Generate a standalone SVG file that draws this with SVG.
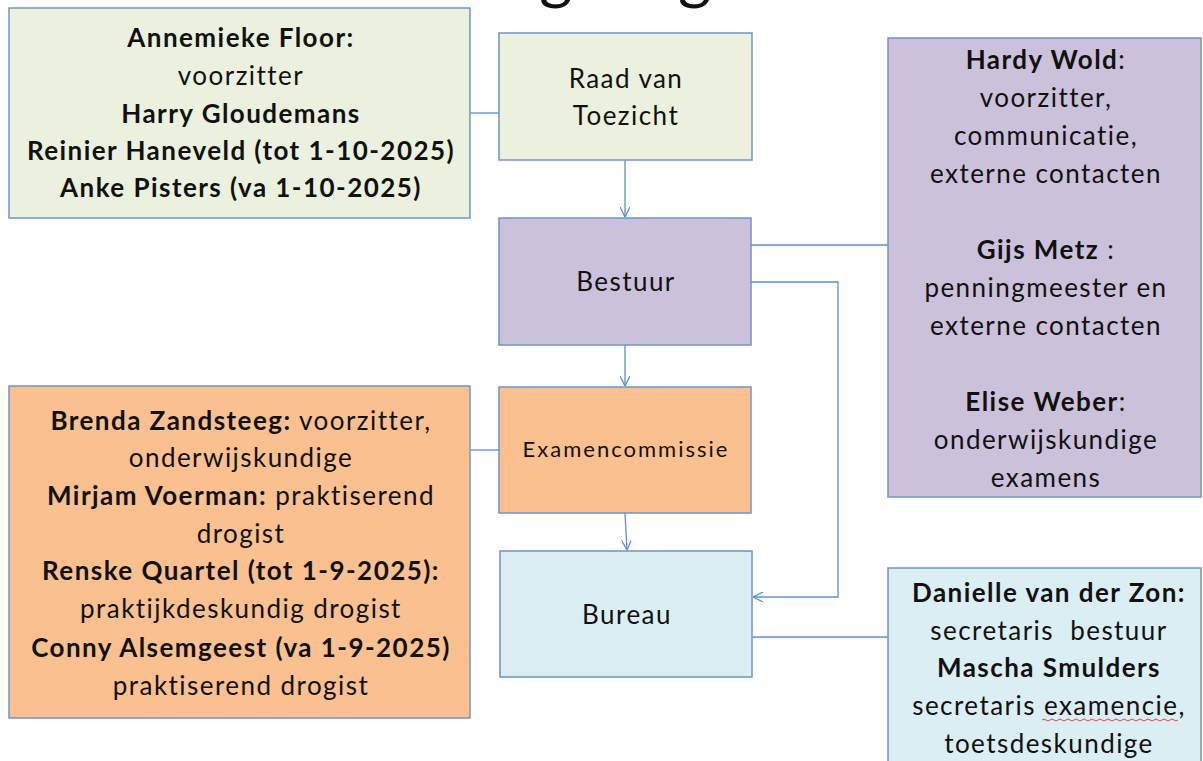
<svg xmlns="http://www.w3.org/2000/svg" width="1203" height="761" viewBox="0 0 1203 761">
<style>
  text { font-family: Lato, "Open Sans", "Liberation Sans", sans-serif; font-size: 26px; letter-spacing: 1.45px; fill: #111; text-anchor: middle; }
  .b { font-weight: bold; }
  .box { stroke: #7393C0; stroke-width: 1.5; }
  .green { fill: #EBF1DE; }
  .purple { fill: #CCC1DA; }
  .orange { fill: #FAC090; }
  .blue { fill: #DBEEF4; }
  .conn { fill: none; stroke: #5E8ED6; stroke-width: 1.3; }
  .title { font-size: 64px; letter-spacing: 0.5px; text-anchor: start; }
</style>
<defs>
  <marker id="arr" viewBox="0 0 10 10" refX="10" refY="5" markerWidth="10" markerHeight="10" orient="auto" markerUnits="userSpaceOnUse">
    <path d="M0,0 L10,5 L0,10" fill="none" stroke="#5E8ED6" stroke-width="1.3"/>
  </marker>
</defs>
<rect width="1203" height="761" fill="#FFFFFF"/>
<text class="title" x="465" y="-3">Organogram</text>

<g id="connectors">
  <path class="conn" d="M470,113 H499"/>
  <path class="conn" d="M625,160 V217" marker-end="url(#arr)"/>
  <path class="conn" d="M625,345 V386" marker-end="url(#arr)"/>
  <path class="conn" d="M625,513 L627,550" marker-end="url(#arr)"/>
  <path class="conn" d="M751,282 H838 V597 H753" marker-end="url(#arr)"/>
  <path class="conn" d="M751,245 H888"/>
  <path class="conn" d="M752,637 H888"/>
  <path class="conn" d="M470,450 H499"/>
</g>

<g id="rvt-leden">
  <rect class="box green" x="9" y="8" width="461" height="210"/>
  <text x="241" y="47" class="b">Annemieke Floor:</text>
  <text x="241" y="85">voorzitter</text>
  <text x="241" y="123" class="b">Harry Gloudemans</text>
  <text x="241" y="160" class="b">Reinier Haneveld (tot 1-10-2025)</text>
  <text x="241" y="197" class="b">Anke Pisters (va 1-10-2025)</text>
</g>

<g id="raad-van-toezicht">
  <rect class="box green" x="499" y="33" width="253" height="127"/>
  <text x="626" y="88">Raad van</text>
  <text x="626" y="125">Toezicht</text>
</g>

<g id="bestuur">
  <rect class="box purple" x="499" y="218" width="252" height="127"/>
  <text x="626" y="291">Bestuur</text>
</g>

<g id="examencommissie">
  <rect class="box orange" x="499" y="387" width="252" height="126"/>
  <text x="626" y="457" style="font-size:22px;letter-spacing:2px">Examencommissie</text>
</g>

<g id="bureau">
  <rect class="box blue" x="500" y="551" width="252" height="126"/>
  <text x="627" y="624">Bureau</text>
</g>

<g id="bestuur-leden">
  <rect class="box purple" x="888" y="38" width="313" height="459"/>
  <text x="1046" y="69"><tspan class="b">Hardy Wold</tspan>:</text>
  <text x="1046" y="107">voorzitter,</text>
  <text x="1046" y="145">communicatie,</text>
  <text x="1046" y="183">externe contacten</text>
  <text x="1046" y="259"><tspan class="b">Gijs Metz</tspan> :</text>
  <text x="1046" y="297">penningmeester en</text>
  <text x="1046" y="335">externe contacten</text>
  <text x="1046" y="411"><tspan class="b">Elise Weber</tspan>:</text>
  <text x="1046" y="449">onderwijskundige</text>
  <text x="1046" y="487">examens</text>
</g>

<g id="examencommissie-leden">
  <rect class="box orange" x="9" y="386" width="461" height="332"/>
  <text x="241" y="430"><tspan class="b">Brenda Zandsteeg:</tspan> voorzitter,</text>
  <text x="241" y="467">onderwijskundige</text>
  <text x="241" y="505"><tspan class="b">Mirjam Voerman:</tspan> praktiserend</text>
  <text x="241" y="543">drogist</text>
  <text x="241" y="580" class="b">Renske Quartel (tot 1-9-2025):</text>
  <text x="241" y="618">praktijkdeskundig drogist</text>
  <text x="241" y="657" class="b">Conny Alsemgeest (va 1-9-2025)</text>
  <text x="241" y="695">praktiserend drogist</text>
</g>

<g id="bureau-leden">
  <rect class="box blue" x="888" y="568" width="313" height="200"/>
  <text x="1049" y="602" class="b">Danielle van der Zon:</text>
  <text x="1049" y="640" xml:space="preserve">secretaris  bestuur</text>
  <text x="1049" y="677" class="b">Mascha Smulders</text>
  <text x="1049" y="715">secretaris examencie,</text>
  <path d="M1042,720 q2,-2 4,0 t4,0 t4,0 t4,0 t4,0 t4,0 t4,0 t4,0 t4,0 t4,0 t4,0 t4,0 t4,0 t4,0 t4,0 t4,0 t4,0 t4,0 t4,0 t4,0 t4,0 t4,0 t4,0 t4,0 t4,0 t4,0 t4,0 t4,0 t4,0 t4,0 t4,0 t4,0 t4,0 t4,0" fill="none" stroke="#E03030" stroke-width="0.9"/>
  <text x="1049" y="753">toetsdeskundige</text>
</g>
</svg>
